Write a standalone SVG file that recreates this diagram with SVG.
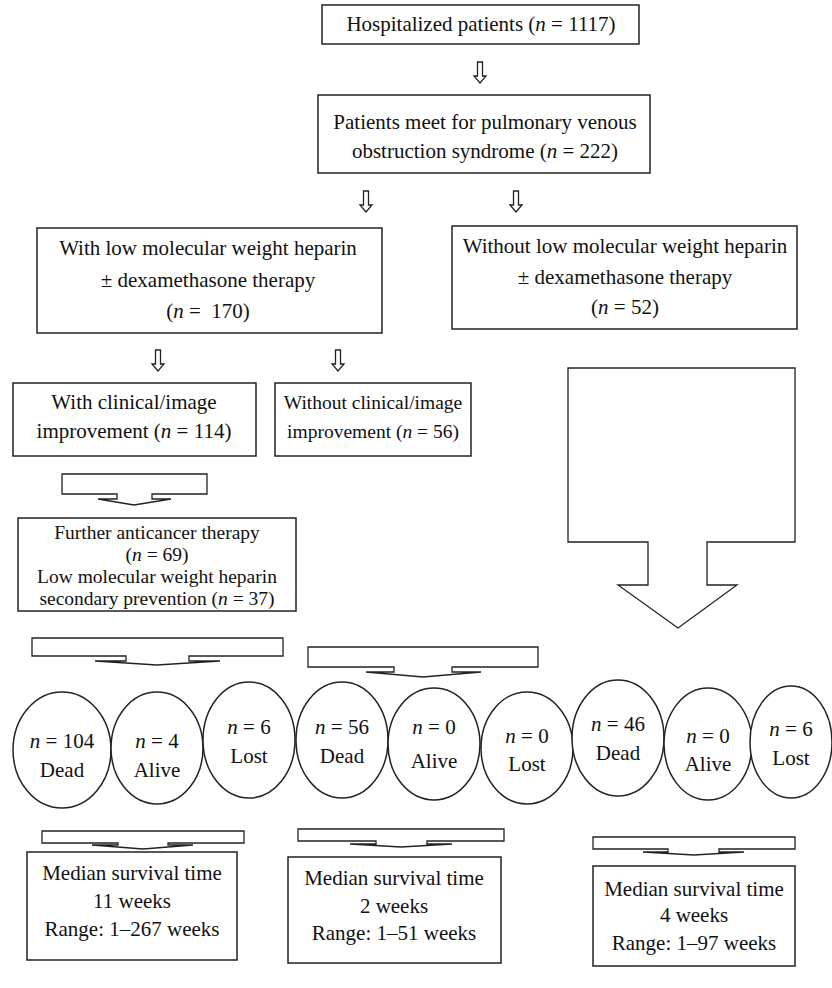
<svg xmlns="http://www.w3.org/2000/svg" width="832" height="988" viewBox="0 0 832 988">
<style>
.b{fill:#fff;stroke:#222;stroke-width:1.5}
.a{fill:#fff;stroke:#222;stroke-width:1.3;stroke-linejoin:miter}
text{font-family:"Liberation Serif","Times New Roman",serif;font-size:21px;fill:#111;text-anchor:middle}
.s{font-size:19.5px}
.i{font-style:italic}
</style>
<rect width="832" height="988" fill="#fff"/>
<g id="connectors">
<path class="a" d="M477.5,62h5v14h3.5l-6,7l-6,-7h3.5z"/>
<path class="a" d="M363.5,191h5v14h3.5l-6,7l-6,-7h3.5z"/>
<path class="a" d="M513.5,191h5v14h3.5l-6,7l-6,-7h3.5z"/>
<path class="a" d="M155.5,350h5v14h3.5l-6,7l-6,-7h3.5z"/>
<path class="a" d="M335.5,350h5v14h3.5l-6,7l-6,-7h3.5z"/>
<path class="a" d="M117,494H62V474H207V494H152V499H171L134,505L98,499H117Z"/>
<path class="a" d="M126,656H32V638H283V656H189V661H220L157,665L95,661H126Z"/>
<path class="a" d="M394,667H308V647H538V667H452V672H481L423,677L366,672H394Z"/>
<path class="a" d="M118,843H42V831H244V843H168V845H193L143,849L92,845H118Z"/>
<path class="a" d="M376,841H298V829H504V841H427V844H452L401,847L350,844H376Z"/>
<path class="a" d="M668,849H593V837H795V849H719V852H744L694,855L643,852H668Z"/>
<path class="a" d="M648,542H568V368H795V542H707V585H737L678,628L618,585H648Z"/>
</g>
<g id="n1"><rect class="b" x="322" y="5" width="317" height="39"/><text x="481" y="31">Hospitalized patients (<tspan class="i">n</tspan> = 1117)</text></g>
<g id="n2"><rect class="b" x="318" y="95" width="332" height="78"/><text x="485" y="129">Patients meet for pulmonary venous</text><text x="485" y="158">obstruction syndrome (<tspan class="i">n</tspan> = 222)</text></g>
<g id="n3"><rect class="b" x="37" y="228" width="345" height="105"/><text x="208" y="255">With low molecular weight heparin</text><text x="208" y="287">± dexamethasone therapy</text><text x="208" y="318">(<tspan class="i">n</tspan> =&#160;&#160;170)</text></g>
<g id="n4"><rect class="b" x="452" y="226" width="345" height="103"/><text x="625" y="253">Without low molecular weight heparin</text><text x="625" y="284">± dexamethasone therapy</text><text x="625" y="314">(<tspan class="i">n</tspan> = 52)</text></g>
<g id="n5"><rect class="b" x="13" y="383" width="243" height="73"/><text x="134" y="409">With clinical/image</text><text x="134" y="438">improvement (<tspan class="i">n</tspan> = 114)</text></g>
<g id="n6"><rect class="b" x="275" y="383" width="196" height="73"/><text class="s" x="373" y="409">Without clinical/image</text><text class="s" x="373" y="438">improvement (<tspan class="i">n</tspan> = 56)</text></g>
<g id="n7"><rect class="b" x="18" y="518" width="278" height="93"/><text class="s" x="157" y="539">Further anticancer therapy</text><text class="s" x="157" y="561">(<tspan class="i">n</tspan> = 69)</text><text class="s" x="157" y="583">Low molecular weight heparin</text><text class="s" x="157" y="605">secondary prevention (<tspan class="i">n</tspan> = 37)</text></g>
<g id="e1"><ellipse class="b" cx="62" cy="750" rx="49" ry="58"/><text x="62" y="748"><tspan class="i">n</tspan> = 104</text><text x="62" y="777">Dead</text></g>
<g id="e2"><ellipse class="b" cx="157" cy="748" rx="46" ry="56"/><text x="157" y="748"><tspan class="i">n</tspan> = 4</text><text x="157" y="777">Alive</text></g>
<g id="e3"><ellipse class="b" cx="249" cy="740" rx="46" ry="58"/><text x="249" y="734"><tspan class="i">n</tspan> = 6</text><text x="249" y="763">Lost</text></g>
<g id="e4"><ellipse class="b" cx="342" cy="740" rx="46" ry="58"/><text x="342" y="734"><tspan class="i">n</tspan> = 56</text><text x="342" y="763">Dead</text></g>
<g id="e5"><ellipse class="b" cx="434" cy="744" rx="46" ry="56"/><text x="434" y="734"><tspan class="i">n</tspan> = 0</text><text x="434" y="768">Alive</text></g>
<g id="e6"><ellipse class="b" cx="527" cy="748" rx="46" ry="56"/><text x="527" y="743"><tspan class="i">n</tspan> = 0</text><text x="527" y="771">Lost</text></g>
<g id="e7"><ellipse class="b" cx="618" cy="738" rx="46" ry="58"/><text x="618" y="731"><tspan class="i">n</tspan> = 46</text><text x="618" y="760">Dead</text></g>
<g id="e8"><ellipse class="b" cx="708" cy="744" rx="44" ry="56"/><text x="708" y="743"><tspan class="i">n</tspan> = 0</text><text x="708" y="771">Alive</text></g>
<g id="e9"><ellipse class="b" cx="791" cy="742" rx="41" ry="56"/><text x="791" y="736"><tspan class="i">n</tspan> = 6</text><text x="791" y="765">Lost</text></g>
<g id="m1"><rect class="b" x="27" y="852" width="210" height="108"/><text x="132" y="880">Median survival time</text><text x="132" y="908">11 weeks</text><text x="132" y="936">Range: 1–267 weeks</text></g>
<g id="m2"><rect class="b" x="288" y="857" width="213" height="106"/><text x="394" y="885">Median survival time</text><text x="394" y="913">2 weeks</text><text x="394" y="940">Range: 1–51 weeks</text></g>
<g id="m3"><rect class="b" x="593" y="866" width="202" height="100"/><text x="694" y="896">Median survival time</text><text x="694" y="922">4 weeks</text><text x="694" y="950">Range: 1–97 weeks</text></g>
</svg>
